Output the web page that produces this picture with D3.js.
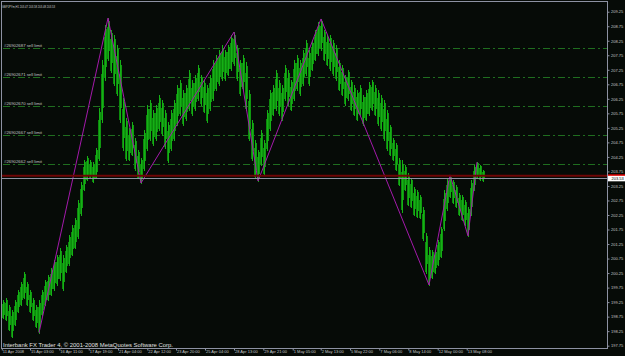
<!DOCTYPE html>
<html><head><meta charset="utf-8">
<script src="https://cdn.jsdelivr.net/npm/d3@7"></script>
<style>
html,body{margin:0;padding:0;background:#060b07;}
svg{display:block;}
text{font-family:"Liberation Sans",Arial,sans-serif;}
</style></head><body>
<svg id="chart" width="625" height="356"></svg>
<script>
// bar highs / lows, one entry per ~3 hours
var highs = [199.32,199.39,199.15,198.98,199.32,199.67,199.94,200.29,199.94,199.67,
  199.39,199.15,199.32,199.67,200.01,200.18,200.43,200.70,200.87,201.11,
  200.87,201.22,201.56,201.90,202.15,202.77,203.38,204.14,204.28,204.14,
  204.07,204.56,205.93,207.58,208.79,209.03,208.62,208.45,208.10,207.58,
  206.28,205.59,205.24,205.45,204.90,204.49,204.21,205.17,206.04,206.21,
  205.86,206.04,206.38,206.21,205.86,205.45,205.86,206.21,206.72,206.90,
  206.55,206.72,207.24,206.90,207.07,207.41,207.07,206.90,206.72,207.07,
  207.58,207.76,207.93,208.10,207.93,208.10,208.45,208.55,208.10,207.58,
  207.76,207.52,206.55,205.52,204.83,204.49,205.17,204.83,205.86,206.55,
  206.72,207.24,206.90,206.72,207.41,207.24,206.90,207.58,207.76,207.58,
  207.93,208.27,207.93,208.27,208.62,208.89,209.00,208.62,208.45,208.45,
  208.27,208.10,207.58,207.41,207.07,207.24,206.90,206.72,206.55,206.72,
  206.38,206.55,206.83,206.90,206.72,206.55,206.38,206.21,205.86,205.35,
  204.90,204.73,204.21,204.14,203.97,203.69,203.52,203.21,203.11,202.94,
  202.53,201.63,201.15,201.04,201.04,201.39,201.84,203.11,203.52,203.63,
  203.45,203.28,203.01,202.94,202.77,202.53,203.45,203.97,204.07,203.97,
  203.80];
var lows = [198.70,198.63,198.29,198.05,198.46,198.91,199.15,199.39,199.15,198.91,
  198.63,198.39,198.19,198.81,199.15,199.32,199.50,199.67,199.84,200.01,
  199.67,200.29,200.53,200.87,201.11,201.46,202.25,203.11,203.45,203.52,
  203.38,203.52,204.14,205.45,206.90,207.58,207.17,206.72,206.38,205.45,
  204.49,204.14,204.14,204.31,203.80,203.52,203.35,203.80,204.49,204.83,
  204.66,204.83,205.17,205.00,204.56,204.07,204.49,204.83,205.35,205.69,
  205.35,205.52,205.86,205.69,205.86,206.21,206.04,205.79,205.45,205.86,
  206.21,206.55,206.72,206.90,206.90,207.07,207.24,207.41,206.90,206.38,
  206.55,205.86,204.83,204.14,203.52,203.42,203.97,203.63,204.49,205.17,
  205.69,205.86,205.69,205.52,206.21,206.04,205.86,206.21,206.55,206.38,
  206.72,207.07,206.72,207.24,207.58,207.76,207.93,207.58,207.41,207.24,
  207.07,206.90,206.55,206.38,206.04,206.21,205.86,205.69,205.52,205.69,
  205.35,205.52,205.69,205.86,205.69,205.35,205.17,204.83,204.49,204.31,
  204.14,203.80,203.28,202.35,203.11,202.59,202.52,202.25,202.18,202.15,
  201.39,200.25,199.84,200.08,200.25,200.53,200.80,201.73,202.42,202.87,
  202.66,202.52,202.25,202.08,201.90,201.53,202.25,203.11,203.52,203.45,
  203.42];

// zigzag pivots (bar index, price)
var zigIdx = [12, 35, 46, 77, 85, 106, 142, 149, 155, 158];
var zigPrice = [198.19, 209.03, 203.35, 208.55, 203.42, 209.00, 199.84, 203.63, 201.53, 204.07];

var sellLimits = [208, 207, 206, 205, 204];
var sellLabels = ["#26902687 sell limit", "#26902671 sell limit", "#26902670 sell limit",
  "#26902667 sell limit", "#26902662 sell limit"];

var yTicks = [209.25, 208.75, 208.25, 207.75, 207.25, 206.75, 206.25, 205.75, 205.25,
  204.75, 204.25, 203.75, 203.25, 202.75, 202.25, 201.75, 201.25, 200.75, 200.25,
  199.75, 199.25, 198.75, 198.25, 197.75];

var dateIdx = [-0.4, 9, 18.77, 28.57, 38.33, 48.1, 57.67, 67.33, 77, 86.77, 96.57,
  105.9, 115.67, 125.43, 135.1, 144.9, 154.57];
var dateLabels = ["11 Apr 2008", "15 Apr 03:00", "16 Apr 11:00", "17 Apr 19:00",
  "21 Apr 04:00", "22 Apr 12:00", "23 Apr 20:00", "25 Apr 04:00", "28 Apr 13:00",
  "29 Apr 21:00", "1 May 05:00", "2 May 13:00", "5 May 22:00", "7 May 06:00",
  "8 May 14:00", "12 May 00:00", "13 May 08:00"];

var bid = 203.53, ask = 203.60;
var header = "GBPJPYm,H1  203.47 203.58 203.48 203.53";
var copyright = "Interbank FX Trader 4, \u00a9 2001-2008 MetaQuotes Software Corp.";

var W = 625, H = 356,
  plot = {left: 1.5, top: 1.5, right: 607.5, bottom: 348.5};

var svg = d3.select("#chart");

var x = d3.scaleLinear().domain([0, highs.length - 1]).range([3, 483]);
var y = d3.scaleLinear().domain([197.67, 209.653]).range([348, 0]);

svg.append("rect").attr("width", W).attr("height", H).attr("fill", "#060b07");

// sell limit orders
svg.selectAll("line.limit").data(sellLimits).enter().append("line")
  .attr("class", "limit")
  .attr("x1", 3).attr("x2", plot.right)
  .attr("y1", function (d) { return Math.round(y(d)) + 0.5; })
  .attr("y2", function (d) { return Math.round(y(d)) + 0.5; })
  .attr("stroke", "#1f6e1f")
  .attr("stroke-dasharray", "7,3,2,3");

svg.selectAll("text.limit").data(sellLimits).enter().append("text")
  .attr("class", "limit")
  .attr("x", 4)
  .attr("y", function (d) { return Math.round(y(d)) - 1.5; })
  .attr("font-size", 4)
  .attr("fill", "#c4c4c4")
  .attr("textLength", 38)
  .attr("lengthAdjust", "spacingAndGlyphs")
  .text(function (d, i) { return sellLabels[i]; });

// bars: each entry drawn as three hairlines, outer ones trimmed so the band looks ragged
var bars = svg.append("g").attr("shape-rendering", "crispEdges");
var strands = [
  {dx: -1, top: 0.22, bot: 0.05, color: "#0c8a0c"},
  {dx: 0, top: 0, bot: 0, color: "#16b016"},
  {dx: 1, top: 0.08, bot: 0.25, color: "#0f980f"}
];
strands.forEach(function (s) {
  bars.append("g").selectAll("line").data(highs).enter().append("line")
    .attr("x1", function (d, i) { return Math.round(x(i)) + s.dx + 0.5; })
    .attr("x2", function (d, i) { return Math.round(x(i)) + s.dx + 0.5; })
    .attr("y1", function (d, i) {
      var h = y(d), l = y(lows[i]);
      return Math.round(h + (l - h) * s.top);
    })
    .attr("y2", function (d, i) {
      var h = y(d), l = y(lows[i]);
      return Math.round(l - (l - h) * s.bot) + 1;
    })
    .attr("stroke", s.color);
});

// zigzag
var zig = d3.line()
  .x(function (d) { return x(d); })
  .y(function (d, i) { return y(zigPrice[i]); });
svg.append("path").datum(zigIdx)
  .attr("d", zig)
  .attr("fill", "none")
  .attr("stroke", "#a41aab")
  .attr("stroke-width", 1);

// ask / bid lines
svg.append("line")
  .attr("x1", plot.left).attr("x2", plot.right)
  .attr("y1", y(ask)).attr("y2", y(ask))
  .attr("stroke", "#6e0505").attr("stroke-width", 2);
svg.append("line")
  .attr("x1", plot.left).attr("x2", plot.right)
  .attr("y1", Math.round(y(bid)) + 0.5).attr("y2", Math.round(y(bid)) + 0.5)
  .attr("stroke", "#8d92a2");

// frame
svg.append("rect")
  .attr("x", plot.left).attr("y", plot.top)
  .attr("width", plot.right - plot.left).attr("height", plot.bottom - plot.top)
  .attr("fill", "none").attr("stroke", "#8d92a2");

// price axis
var yAxis = svg.append("g")
  .attr("transform", "translate(" + plot.right + ",0)")
  .call(d3.axisRight(y).tickValues(yTicks).tickSize(2).tickFormat(d3.format(".2f")));
yAxis.select(".domain").remove();
yAxis.selectAll("line").attr("stroke", "#8d92a2");
yAxis.selectAll("text")
  .attr("x", 3.5)
  .attr("font-size", 4)
  .attr("font-family", "Liberation Sans, Arial, sans-serif")
  .attr("fill", "#c8c8c8");

// time axis
var xAxis = svg.append("g")
  .attr("transform", "translate(0," + plot.bottom + ")")
  .call(d3.axisBottom(x).tickValues(dateIdx).tickSize(2)
    .tickFormat(function (d, i) { return dateLabels[i]; }));
xAxis.select(".domain").remove();
xAxis.selectAll("line").attr("stroke", "#8d92a2");
xAxis.selectAll("text")
  .attr("text-anchor", "start")
  .attr("x", 0.5)
  .attr("y", 2)
  .attr("font-size", 4)
  .attr("font-family", "Liberation Sans, Arial, sans-serif")
  .attr("fill", "#c8c8c8");

// current price labels
svg.append("rect")
  .attr("x", plot.right + 0.5).attr("y", y(ask) - 1.5)
  .attr("width", W - plot.right).attr("height", 3)
  .attr("fill", "#e00000");
svg.append("rect")
  .attr("x", plot.right + 0.5).attr("y", y(bid) - 2)
  .attr("width", W - plot.right).attr("height", 5.5)
  .attr("fill", "#ffffff");
svg.append("text")
  .attr("x", plot.right + 4).attr("y", y(bid) + 2.5)
  .attr("font-size", 4).attr("fill", "#000")
  .text(d3.format(".2f")(bid));

// header and copyright
svg.append("text")
  .attr("x", 2).attr("y", 7.5)
  .attr("font-size", 4).attr("fill", "#d0d0d0")
  .attr("textLength", 53).attr("lengthAdjust", "spacingAndGlyphs")
  .text(header);
svg.append("text")
  .attr("x", 3).attr("y", 347)
  .attr("font-size", 6).attr("fill", "#e0e0e0")
  .attr("textLength", 170).attr("lengthAdjust", "spacingAndGlyphs")
  .text(copyright);
</script>
</body></html>
